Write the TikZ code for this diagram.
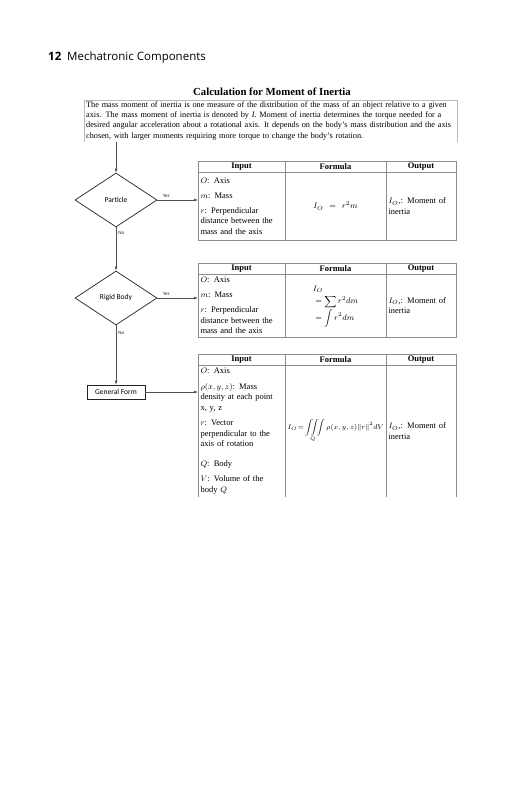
\documentclass[tikz,border=0pt]{standalone}
\usepackage{amsmath}
\usepackage{fontspec}
\setmainfont{Liberation Serif}
\setsansfont{Carlito}
\newfontfamily\headfont{Open Sans}
\usetikzlibrary{
  arrows.meta,
  positioning,
  shapes.geometric
}
\definecolor{ink}{HTML}{222222}
\definecolor{flowgrey}{HTML}{505050}
\definecolor{rule}{HTML}{8C8C8C}
\definecolor{boxline}{HTML}{BBBBBB}
\newcommand{\bodyfont}{\fontsize{8.5}{10.5}\selectfont}
\tikzset{
  flow/.style={
    -{Latex[length=4pt,width=3pt]},
    line width=0.7pt,
    draw=flowgrey
  },
  flowlabel/.style={
    font=\sffamily\fontsize{5}{6}\selectfont,
    text=ink,
    inner sep=2pt
  },
  choice/.style={
    diamond,
    draw=ink,
    line width=0.7pt,
    minimum width=82pt,
    minimum height=54pt,
    inner sep=0pt,
    font=\sffamily\fontsize{7.5}{9}\selectfont
  },
  process/.style={
    draw=ink,
    line width=0.7pt,
    minimum width=58pt,
    minimum height=14pt,
    inner sep=0pt,
    font=\sffamily\fontsize{7.5}{9}\selectfont
  },
  tabcell/.style={
    draw=rule,
    line width=0.5pt,
    inner xsep=2.5pt,
    inner ysep=0pt,
    outer sep=0pt,
    font=\bodyfont
  },
  headcell/.style={
    minimum height=11pt,
    align=center,
    font=\bfseries\bodyfont
  },
  incol/.style={tabcell, text width=82pt, align=left},
  fcol/.style={tabcell, text width=96pt, align=center},
  outcol/.style={tabcell, text width=65pt, align=left}
}

\begin{document}
\begin{tikzpicture}[x=1pt, y=-1pt]
  \useasboundingbox[fill=white] (0,0) rectangle (531,800);

  % running head
  \node[anchor=base west, inner sep=0pt, font=\headfont\bfseries\fontsize{11.5}{13}\selectfont]
    (pagenum) at (48,61) {12};
  \node[anchor=base west, inner sep=0pt, font=\headfont\fontsize{11.5}{13}\selectfont]
    (runhead) at (67,61) {Mechatronic Components};

  % title and introduction
  \node[font=\bfseries\fontsize{10.8}{13}\selectfont] (title) at (272,92)
    {Calculation for Moment of Inertia};
  \node[anchor=north west, text width=369pt, inner xsep=2pt, inner ysep=1.5pt,
    align=left, font=\fontsize{8.25}{10.2}\selectfont] (intro) at (84,100)
    {The mass moment of inertia is one measure of the distribution of the mass of an object relative to a given\\
     axis. The mass moment of inertia is denoted by \textit{I}. Moment of inertia determines the torque needed for a\\
     desired angular acceleration about a rotational axis. It depends on the body's mass distribution and the axis\\
     chosen, with larger moments requiring more torque to change the body's rotation.};
  \draw[boxline, line width=0.6pt] (intro.south west) -- (intro.north west)
    -- (intro.north east) -- (intro.south east);

  % decisions
  \node[choice] (particle) at (116,200) {Particle};
  \node[choice] (rigid) at (116,298) {Rigid Body};
  \node[process] (gform) at (116,392) {General Form};

  % table 1
  \node[incol, headcell, anchor=north west] (in1h) at (198,161) {Input};
  \node[fcol, headcell, right=0pt of in1h] (fo1h) {Formula};
  \node[outcol, headcell, right=0pt of fo1h] (out1h) {Output};
  \node[incol, minimum height=68pt, below=0pt of in1h] (in1)
    {$O$: Axis\\[4.5pt]
     $m$: Mass\\[4.5pt]
     $r$: Perpendicular\\ distance between the\\ mass and the axis};
  \node[fcol, minimum height=68pt, below=0pt of fo1h] (fo1) {$I_O = r^2m$};
  \node[outcol, minimum height=68pt, below=0pt of out1h] (out1)
    {$I_O$,: Moment of\\ inertia};

  % table 2
  \node[incol, headcell, anchor=north west] (in2h) at (198,263) {Input};
  \node[fcol, headcell, right=0pt of in2h] (fo2h) {Formula};
  \node[outcol, headcell, right=0pt of fo2h] (out2h) {Output};
  \node[incol, minimum height=63pt, below=0pt of in2h] (in2)
    {$O$: Axis\\[4.5pt]
     $m$: Mass\\[4.5pt]
     $r$: Perpendicular\\ distance between the\\ mass and the axis};
  \node[fcol, minimum height=63pt, below=0pt of fo2h] (fo2)
    {$\begin{aligned}[t] &I_O\\[-3pt] &=\sum r^2dm\\[-3pt] &=\int r^2dm\end{aligned}$};
  \node[outcol, minimum height=63pt, below=0pt of out2h] (out2)
    {$I_O$,: Moment of\\ inertia};

  % table 3 (open at the bottom)
  \node[incol, headcell, anchor=north west] (in3h) at (198,354) {Input};
  \node[fcol, headcell, right=0pt of in3h] (fo3h) {Formula};
  \node[outcol, headcell, right=0pt of fo3h] (out3h) {Output};
  \node[incol, draw=none, minimum height=132pt, below=0pt of in3h] (in3)
    {$O$: Axis\\[5pt]
     $\rho(x,y,z)$: Mass\\ density at each point\\ x, y, z\\[5pt]
     $r$: Vector\\ perpendicular to the\\ axis of rotation\\[9pt]
     $Q$: Body\\[5pt]
     $V$: Volume of the\\ body $Q$};
  \node[fcol, draw=none, minimum height=132pt, below=0pt of fo3h,
    font=\fontsize{7.5}{9}\selectfont] (fo3)
    {\mbox{$I_O\!=\!\displaystyle\iiint\limits_Q \rho(x,y,z)\|r\|^2dV$}};
  \node[outcol, draw=none, minimum height=132pt, below=0pt of out3h] (out3)
    {$I_O$,: Moment of\\ inertia};
  \foreach \c in {in3.south west, fo3.south west, out3.south west, out3.south east}{
    \draw[rule, line width=0.5pt] (\c) -- ++(0,-132);
  }

  % connectors
  \draw[flow] (intro.south -| particle.north) -- (particle.north);
  \draw[flow] (particle.south) -- node[flowlabel, right, pos=0.12] {No} (rigid.north);
  \draw[flow] (rigid.south) -- node[flowlabel, right, pos=0.12] {No} (gform.north);
  \draw[flow] (particle.east) -- node[flowlabel, above, pos=0.22] {Yes}
    (particle.east -| in1.west);
  \draw[flow] (rigid.east) -- node[flowlabel, above, pos=0.22] {Yes}
    (rigid.east -| in2.west);
  \draw[flow] (gform.east) -- (gform.east -| in3.west);
\end{tikzpicture}
\end{document}
